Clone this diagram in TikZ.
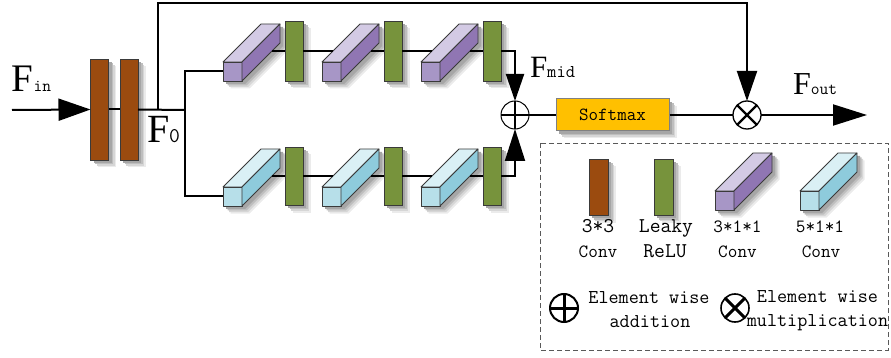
\documentclass[tikz,border=0pt]{standalone}
\usepackage{fontspec}
\setmainfont{Liberation Serif}
\usetikzlibrary{arrows.meta}

\definecolor{convbrown}{HTML}{9B4B0F}
\definecolor{relugreen}{HTML}{77933C}
\definecolor{softorange}{HTML}{FFC000}
\definecolor{purpfront}{HTML}{A796C6}
\definecolor{purptop}{HTML}{D3CAE4}
\definecolor{purpside}{HTML}{9076B3}
\definecolor{cyanfront}{HTML}{B7DFE9}
\definecolor{cyantop}{HTML}{DAF0F5}
\definecolor{cyanside}{HTML}{8ECBDC}
\definecolor{edgegray}{HTML}{3A3A3A}
\definecolor{shadeA}{HTML}{EBEBEB}
\definecolor{shadeB}{HTML}{D6D6D6}
\definecolor{shadeC}{HTML}{BEBEBE}
\definecolor{shadeD}{HTML}{A6A6A6}

\tikzset{
  wire/.style={line width=2pt,black},
  bar/.style={draw=edgegray,line width=0.8pt,inner sep=0pt,outer sep=0pt},
  convbar/.style={bar,fill=convbrown,minimum width=18pt},
  relubar/.style={bar,fill=relugreen,minimum width=18pt},
  cubeedge/.style={draw=edgegray,line width=0.8pt,line join=round},
  opcircle/.style={circle,draw=black,line width=1pt,minimum size=28pt,inner sep=0pt,outer sep=0pt},
  label/.style={inner sep=0pt,outer sep=0pt},
  monotext/.style={label,font=\ttfamily\fontsize{18.7}{20}\selectfont},
  legtext/.style={label,font=\ttfamily\fontsize{19.6}{22}\selectfont},
  courtext/.style={label,font=\ttfamily\fontsize{21}{22}\selectfont},
}

% F with a monospaced subscript set on the same baseline
\newcommand\featlbl[3]{{\fontsize{#1}{#1}\selectfont F}{\ttfamily\fontsize{#2}{#2}\selectfont #3}}

% soft drop shadow of a box: centre x, centre y, width, height
\newcommand\boxshadow[4]{%
  \fill[shadeA] (#1-#3/2+7.5,#2-#4/2+7.5) rectangle ++(#3,#4);
  \fill[shadeB] (#1-#3/2+6,#2-#4/2+6) rectangle ++(#3,#4);
  \fill[shadeC] (#1-#3/2+4.5,#2-#4/2+4.5) rectangle ++(#3,#4);
  \fill[shadeD] (#1-#3/2+3,#2-#4/2+3) rectangle ++(#3,#4);
}

% outline of a cuboid whose front face has its top-left corner at (#1,#2)
\newcommand\cuboidoutline[2]{(#1,#2+19) -- (#1,#2) -- ++(38,-38) -- ++(19,0) -- ++(0,19) -- ++(-38,38) -- cycle}

% cuboid: name, x and y of the top-left corner of the front face, palette
% (#1-in: middle of the front face, #1-enter / #1-mid: where a wire 11pt
% above the front face meets the top face and leaves the side face)
\newcommand\drawcuboid[4]{%
  \fill[shadeA] \cuboidoutline{#2+7.5}{#3+7.5};
  \fill[shadeB] \cuboidoutline{#2+6}{#3+6};
  \fill[shadeC] \cuboidoutline{#2+4.5}{#3+4.5};
  \fill[shadeD] \cuboidoutline{#2+3}{#3+3};
  \filldraw[cubeedge,fill=#4front] (#2,#3) rectangle ++(19,19);
  \filldraw[cubeedge,fill=#4top] (#2,#3) -- ++(19,0) -- ++(38,-38) -- ++(-19,0) -- cycle;
  \filldraw[cubeedge,fill=#4side] (#2+19,#3) -- ++(38,-38) -- ++(0,19) -- ++(-38,38) -- cycle;
  \coordinate (#1-in) at (#2,#3+9.5);
  \coordinate (#1-enter) at (#2+11,#3-11);
  \coordinate (#1-mid) at (#2+49,#3-11);
}

\begin{document}
\begin{tikzpicture}[x=1pt,y=-1pt]
\useasboundingbox (0,0) rectangle (891,358);

% input 3x3 convolutions
\boxshadow{99.5}{109.5}{18}{101}
\node[convbar,minimum height=101pt] (cv1) at (99.5,109.5) {};
\boxshadow{129}{109.5}{18}{101}
\node[convbar,minimum height=101pt] (cv2) at (129,109.5) {};

% upper branch: 3*1*1 convolutions with LeakyReLU
\drawcuboid{pa}{223}{62}{purp}
\boxshadow{294}{51}{18}{60}
\node[relubar,minimum height=60pt] (ga) at (294,51) {};
\drawcuboid{pb}{322}{62}{purp}
\boxshadow{393}{51}{18}{60}
\node[relubar,minimum height=60pt] (gb) at (393,51) {};
\drawcuboid{pc}{421}{62}{purp}
\boxshadow{492}{51}{18}{60}
\node[relubar,minimum height=60pt] (gc) at (492,51) {};

% lower branch: 5*1*1 convolutions with LeakyReLU
\drawcuboid{ca}{223}{187}{cyan}
\boxshadow{294}{176}{18}{58}
\node[relubar,minimum height=58pt] (ha) at (294,176) {};
\drawcuboid{cb}{322}{187}{cyan}
\boxshadow{393}{176}{18}{58}
\node[relubar,minimum height=58pt] (hb) at (393,176) {};
\drawcuboid{cc}{421}{187}{cyan}
\boxshadow{492}{176}{18}{58}
\node[relubar,minimum height=58pt] (hc) at (492,176) {};

% fusion
\node[opcircle] (add) at (515,115) {};
\draw[line width=2pt] (add.north) -- (add.south) (add.west) -- (add.east);
\boxshadow{612.5}{115}{113}{32}
\node[draw=gray,line width=1pt,fill=softorange,minimum width=113pt,minimum height=32pt,inner sep=0pt,font=\ttfamily\fontsize{18.5}{20}\selectfont] (sm) at (612.5,115) {Softmax};
\node[opcircle,line width=1.3pt] (mul) at (747,115) {};
\draw[line width=2.2pt] (mul.north east) -- (mul.south west) (mul.north west) -- (mul.south east);

\coordinate (fin0) at (12,110);
\coordinate (tap) at (158,110);
\coordinate (split) at (185,110);
\coordinate (top) at (747,3);
\coordinate (fout) at (867,115);

% wires
\draw[wire] (cv1.east) -- (cv2.west);
\draw[wire] (cv2.east) -- (split);
\draw[wire] (split) |- (pa-in);
\draw[wire] (split) |- (ca-in);
\draw[wire] (pa-mid) -- (ga.west) (ga.east) -- (pb-enter)
            (pb-mid) -- (gb.west) (gb.east) -- (pc-enter)
            (pc-mid) -- (gc.west);
\draw[wire] (ca-mid) -- (ha.west) (ha.east) -- (cb-enter)
            (cb-mid) -- (hb.west) (hb.east) -- (cc-enter)
            (cc-mid) -- (hc.west);
\draw[wire] (add) -- (sm);
\draw[wire] (sm) -- (mul);

% wires with arrow heads
\draw[wire,-{Triangle[length=32pt,width=22pt]}] (fin0) -- (cv1.west);
\draw[wire,line join=miter,-{Triangle[length=30pt,width=20pt]}] (tap) |- (top) -- (mul.north);
\draw[wire,line join=miter,-{Triangle[length=27pt,width=18pt]}] (gc.east) -| (add.north);
\draw[wire,line join=miter,-{Triangle[length=32pt,width=20pt]}] (hc.east) -| (add.south);
\draw[wire,-{Triangle[length=34pt,width=21pt]}] (mul.east) -- (fout);

% feature labels
\node[label,anchor=base west] (lin) at (12,92) {\featlbl{39}{17}{in}};
\node[label,anchor=base west] (l0) at (147,143) {\featlbl{40}{21}{0}};
\node[label,anchor=base west] (lmid) at (530,78) {\featlbl{31}{18}{mid}};
\node[label,anchor=base west] (lout) at (793,95) {\featlbl{32}{17}{out}};

% legend
\draw[dash pattern=on 5pt off 3pt,draw=black!65,line width=0.8pt] (540,143) rectangle (888,350);
\boxshadow{598.5}{187}{19}{56}
\node[convbar,minimum width=19pt,minimum height=56pt] (lgconv) at (598.5,187) {};
\boxshadow{663.5}{187}{19}{56}
\node[relubar,minimum width=19pt,minimum height=56pt] (lgrelu) at (663.5,187) {};
\drawcuboid{lgp}{715}{191}{purp}
\drawcuboid{lgc}{800}{191}{cyan}

\node[courtext,anchor=base] (t33) at (598,232) {3*3};
\node[monotext,anchor=base] (t33b) at (598,257) {Conv};
\node[courtext,anchor=base] (tlr) at (666,232) {Leaky};
\node[courtext,anchor=base] (tlrb) at (665,257) {ReLU};
\node[monotext,anchor=base] (t311) at (737.5,232) {3*1*1};
\node[monotext,anchor=base] (t311b) at (737.5,257) {Conv};
\node[monotext,anchor=base] (t511) at (820,232) {5*1*1};
\node[monotext,anchor=base] (t511b) at (821,257) {Conv};

\node[opcircle,line width=2pt] (lgadd) at (564,308) {};
\draw[line width=3pt] (lgadd.north) -- (lgadd.south) (lgadd.west) -- (lgadd.east);
\node[legtext,anchor=base] (tadd) at (649,303) {Element wise};
\node[legtext,anchor=base] (tadd2) at (650,327) {addition};

\node[opcircle,line width=1.6pt] (lgmul) at (735,308) {};
\draw[line width=3pt] (lgmul.north east) -- (lgmul.south west) (lgmul.north west) -- (lgmul.south east);
\node[legtext,anchor=base] (tmul) at (817.5,302) {Element wise};
\node[legtext,anchor=base] (tmul2) at (817.5,326) {multiplication};
\end{tikzpicture}
\end{document}
